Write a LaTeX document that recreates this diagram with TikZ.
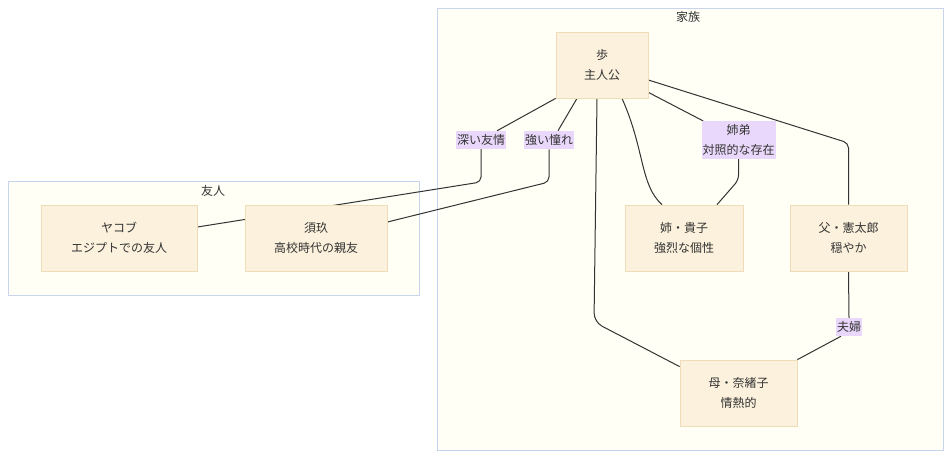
\documentclass[tikz,border=0pt]{standalone}
\usepackage{fontspec}
\setmainfont{Noto Sans CJK JP}
\usetikzlibrary{calc}
\definecolor{boxfill}{HTML}{FBF1DC}
\definecolor{boxline}{HTML}{EEDDB8}
\definecolor{grpfill}{HTML}{FFFFF5}
\definecolor{grpline}{HTML}{C8D4EE}
\definecolor{lblfill}{HTML}{E9D8FB}
\definecolor{ink}{HTML}{333333}
\pgfdeclarelayer{groups}
\pgfdeclarelayer{links}
\pgfsetlayers{groups,links,main}

\begin{document}
\begin{tikzpicture}[x=1pt,y=-1pt,
  person/.style={draw=boxline,fill=boxfill,line width=0.8pt,minimum height=66pt,align=center,text=ink,font=\fontsize{12}{19.5}\selectfont},
  tag/.style={fill=lblfill,inner xsep=1pt,inner ysep=3.5pt,align=center,text=ink,font=\fontsize{12}{19.5}\selectfont},
  title/.style={text=ink,font=\fontsize{12}{19.5}\selectfont},
  link/.style={draw=ink,line width=1pt,rounded corners=5pt},
  group/.style={draw=grpline,fill=grpfill,line width=0.8pt}]
\useasboundingbox (0,0) rectangle (950,459);
\begin{pgfonlayer}{groups}
\draw[group] (437,8) rectangle (943,450);
\draw[group] (8,181) rectangle (419,295);
\end{pgfonlayer}
\node[title] (kazoku) at (688,17) {家族};
\node[title] (yuujin) at (213,191) {友人};

\node[person,minimum width=92pt] (ayumu) at (602,65) {歩\\主人公};
\node[person,minimum width=118pt] (ane) at (684,238) {姉・貴子\\強烈な個性};
\node[person,minimum width=117pt] (chichi) at (848.5,238) {父・憲太郎\\穏やか};
\node[person,minimum width=117pt] (haha) at (738.5,393) {母・奈緒子\\情熱的};
\node[person,minimum width=156pt] (yakob) at (119,238) {ヤコブ\\エジプトでの友人};
\node[person,minimum width=142pt] (suku) at (316,238) {須玖\\高校時代の親友};

\node[tag] (yuujou) at (481,140) {深い友情};
\node[tag] (akogare) at (549,140) {強い憧れ};
\node[tag] (taishou) at (738.5,140) {姉弟\\対照的な存在};
\node[tag] (fuufu) at (849,327) {夫婦};

\coordinate (k1) at (481,182);
\coordinate (k2) at (549,182);
\coordinate (k3) at (594,322);
\coordinate (k4) at (738.5,180);
\coordinate (k5) at (848.5,143);

\begin{pgfonlayer}{links}
\draw[link] (ayumu.south west) -- ([xshift=16pt]yuujou.north);
\draw[link] (yuujou.south) -- (k1) -- ([yshift=11pt]yakob.east);
\draw[link] ([xshift=-25pt]ayumu.south) -- ([xshift=9pt]akogare.north);
\draw[link] (akogare.south) -- (k2) -- ([yshift=16pt]suku.east);
\draw[link,rounded corners=9pt] ([xshift=-5pt]ayumu.south) -- (k3) -- ([yshift=-7pt]haha.north west);
\draw[link] ([xshift=20pt]ayumu.south) .. controls (645,150) and (640,185) .. ([xshift=-22pt]ane.north);
\draw[link] ([yshift=6pt]ayumu.south east) -- ([xshift=2pt]taishou.north west);
\draw[link] (taishou.south) -- (k4) -- ([xshift=33pt]ane.north);
\draw[link] ([yshift=-15pt]ayumu.east) -- (k5) -- (chichi.north);
\draw[link] (chichi.south) -- (fuufu.north);
\draw[link] ([xshift=-8pt]fuufu.south) -- (haha.north east);
\end{pgfonlayer}
\end{tikzpicture}
\end{document}
